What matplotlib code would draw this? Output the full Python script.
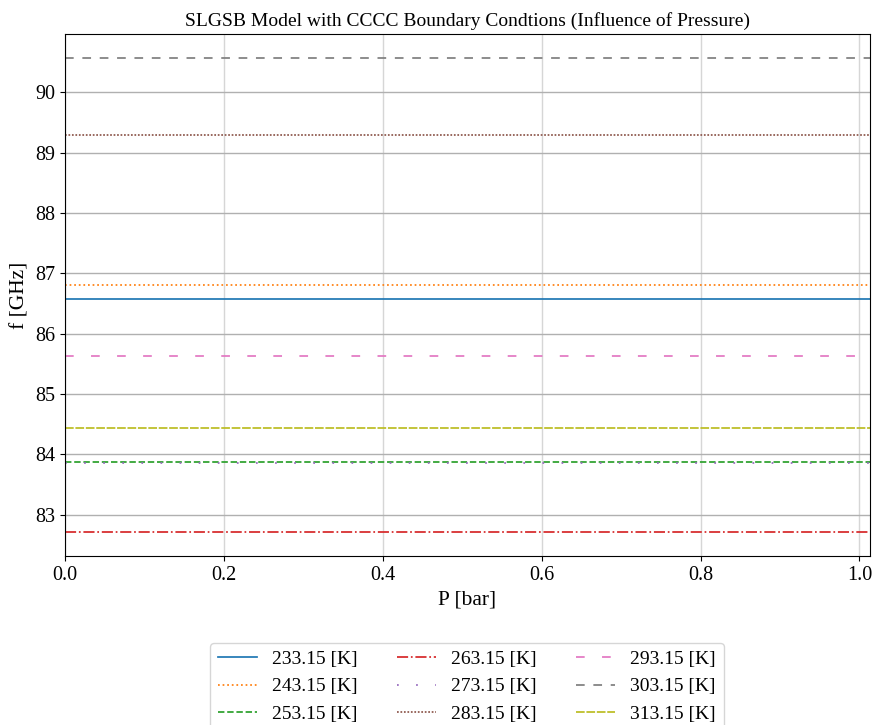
import matplotlib
matplotlib.use("Agg")
import matplotlib.pyplot as plt

plt.rcParams['font.family'] = ['Liberation Serif', 'DejaVu Serif']
plt.rcParams['mathtext.fontset'] = 'stix'

pressure = [0.0, 0.25, 0.5, 0.75, 1.01325]
temperatures = ["233.15", "243.15", "253.15", "263.15", "273.15",
                "283.15", "293.15", "303.15", "313.15"]
freqs = [86.58, 86.81, 83.88, 82.71, 83.86, 89.29, 85.63, 90.57, 84.43]

colors = ['tab:blue', 'tab:orange', 'tab:green', 'tab:red', 'tab:purple',
          'tab:brown', 'tab:pink', 'tab:gray', 'tab:olive']
styles = ['-', ':', '--', '-.', (0, (1, 10)), (0, (1, 1)), (0, (5, 10)),
          (0, (5, 5)), (0, (5, 1))]

fig = plt.figure(figsize=(8.72, 7.25), dpi=100)
ax = fig.add_axes([65/872, 1-556/725, (870-65)/872, (556-34)/725])

for t, f, c, ls in zip(temperatures, freqs, colors, styles):
    ax.plot(pressure, [f]*len(pressure), color=c, linestyle=ls, lw=1.25,
            label=f"{t} [K]")

ax.set_xlim(0, pressure[-1])
ax.margins(x=0)
ax.yaxis.grid(True, color='#b0b0b0', lw=1.0)
ax.xaxis.grid(True, color='#d6d6d6', lw=1.0)
ax.set_axisbelow(True)
ax.tick_params(labelsize=14.5)
ax.set_xlabel("P [bar]", fontsize=15.5)
ax.set_ylabel("f [GHz]", fontsize=15.5)
ax.set_title("SLGSB Model with CCCC Boundary Condtions (Influence of Pressure)",
             fontsize=14)

fig.legend(loc='upper center', bbox_to_anchor=(467/872, 1-633/725), ncol=3,
           fontsize=14)

fig.savefig("out.png", dpi=100)
